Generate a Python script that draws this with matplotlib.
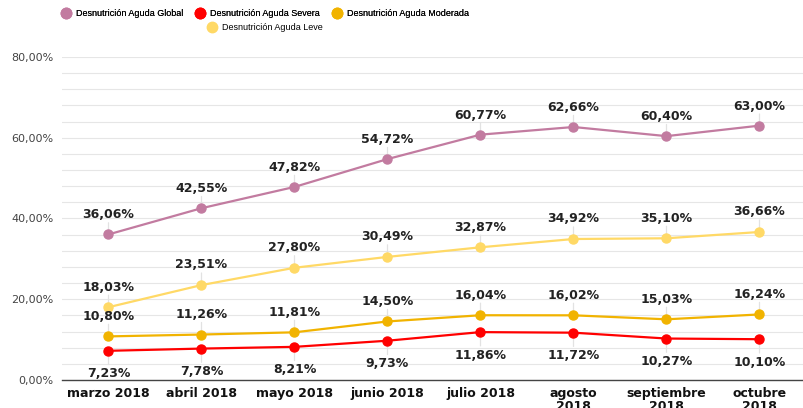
import numpy as np
import matplotlib.pyplot as plt
from matplotlib.lines import Line2D

months = ["marzo 2018", "abril 2018", "mayo 2018", "junio 2018", "julio 2018",
          "agosto\n2018", "septiembre\n2018", "octubre\n2018"]
global_vals = [36.06, 42.55, 47.82, 54.72, 60.77, 62.66, 60.40, 63.00]
severa_vals = [7.23, 7.78, 8.21, 9.73, 11.86, 11.72, 10.27, 10.10]
moderada_vals = [10.80, 11.26, 11.81, 14.50, 16.04, 16.02, 15.03, 16.24]
leve_vals = [18.03, 23.51, 27.80, 30.49, 32.87, 34.92, 35.10, 36.66]

names = ["Desnutrición Aguda Global", "Desnutrición Aguda Severa",
         "Desnutrición Aguda Moderada", "Desnutrición Aguda Leve"]
colors = ["#c27ba0", "#ff0000", "#f1b300", "#ffd966"]
series = [global_vals, severa_vals, moderada_vals, leve_vals]
# label offset in points (positive = above the marker)
offsets = [14, -16.5, 14.5, 14.5]


def fmt(v):
    return f"{v:.2f}".replace(".", ",") + "%"


fig = plt.figure(figsize=(8.04, 4.08), dpi=100)
ax = fig.add_axes([62 / 804, 28 / 408, 744 / 804, 323 / 408])

x = np.arange(len(months))
for vals, col, name, off in zip(series, colors, names, offsets):
    ax.plot(x, vals, color=col, lw=1.6, marker="o", markersize=6.5, zorder=3, label=name)
    for xi, v in zip(x, vals):
        # faint leader line from marker towards the label
        ax.annotate("", xy=(xi, v), xytext=(0, off * 0.6), textcoords="offset points",
                    zorder=2, arrowprops=dict(arrowstyle="-", color="#e2e2e2", lw=0.9,
                                              shrinkA=0, shrinkB=0))
        ax.annotate(fmt(v), xy=(xi, v), xytext=(0, off), textcoords="offset points",
                    ha="center", va="center", fontsize=9, fontweight="bold",
                    color="#222222", zorder=4)

ax.set_xlim(-0.5, 7.5)
ax.set_ylim(0, 80)
ax.set_yticks(np.arange(0, 81, 20))
ax.set_yticklabels([f"{t:.2f}".replace(".", ",") + "%" for t in np.arange(0, 81, 20)],
                   fontsize=8, color="#444444")
ax.set_yticks(np.arange(0, 81, 4), minor=True)
ax.grid(axis="y", which="both", color="#e6e6e6", lw=0.8, zorder=0)
ax.set_xticks(x)
ax.set_xticklabels(months, fontsize=9, fontweight="bold", color="#111111", linespacing=1.0)
ax.tick_params(axis="both", which="both", length=0)
ax.tick_params(axis="x", pad=5)
ax.tick_params(axis="y", pad=6)
for s in ["top", "right", "left"]:
    ax.spines[s].set_visible(False)
ax.spines["bottom"].set_color("#444444")
ax.spines["bottom"].set_linewidth(1.0)
ax.spines["bottom"].set_zorder(5)

handles = [Line2D([], [], ls="", marker="o", markersize=7.5, color=c) for c in colors]
leg_font = {"family": "Liberation Sans", "size": 6.5}
leg1 = fig.legend(handles[:3], names[:3], loc="center", bbox_to_anchor=(0.33, 1 - 14 / 408),
                  ncol=3, frameon=False, prop=leg_font, handletextpad=0.6, columnspacing=1.4,
                  handlelength=1.0, borderpad=0)
leg2 = fig.legend(handles[3:], names[3:], loc="center", bbox_to_anchor=(0.33, 1 - 28 / 408),
                  ncol=1, frameon=False, prop=leg_font, handletextpad=0.6,
                  handlelength=1.0, borderpad=0)
fig.add_artist(leg1)

fig.savefig("out.png", dpi=100)
